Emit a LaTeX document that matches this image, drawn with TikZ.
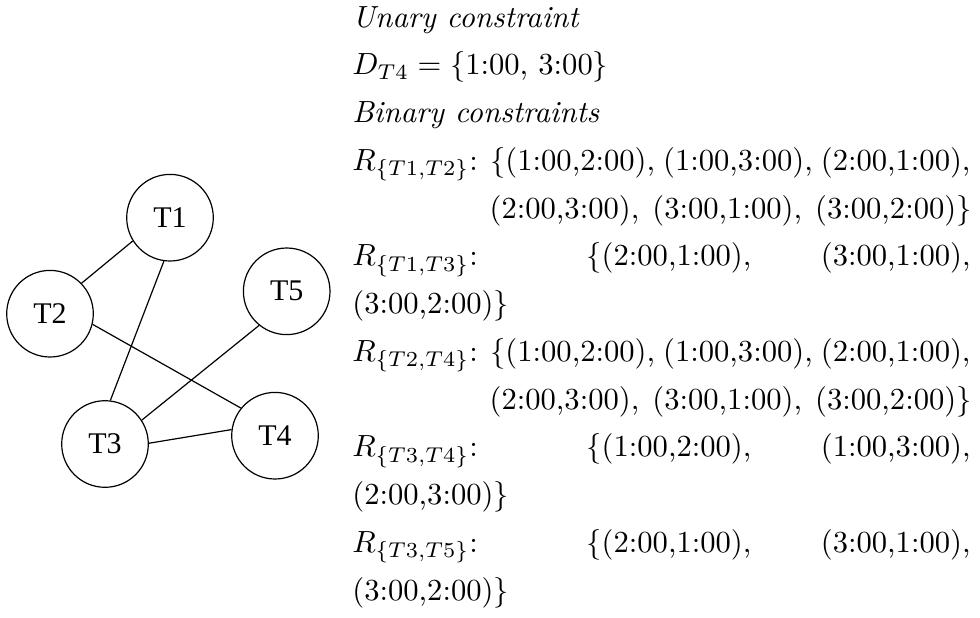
\documentclass[tikz,border=0pt]{standalone}
\usepackage{fontspec}
\newfontfamily\timesfont{Liberation Serif}
\newcommand{\bigtxt}[1]{\scalebox{1.53}{#1}}
\begin{document}
\begin{tikzpicture}[x=0.5pt,y=-0.5pt,
  tnode/.style={circle,draw,line width=0.6pt,minimum size=43.3pt,inner sep=0pt,font=\timesfont\fontsize{15}{17}\selectfont},
  edge/.style={line width=0.6pt},
  txt/.style={anchor=base west,inner sep=0pt,font=\fontsize{10}{12}\selectfont},
  txtr/.style={anchor=base east,inner sep=0pt,font=\fontsize{10}{12}\selectfont}]
\useasboundingbox (0,0) rectangle (980,617);
% graph
\node[tnode] (t1) at (170,217.7) {T1};
\node[tnode] (t2) at (50,313.7) {T2};
\node[tnode] (t5) at (286.7,291.3) {T5};
\node[tnode] (t3) at (105,444) {T3};
\node[tnode] (t4) at (275,435.7) {T4};
\draw[edge] (t1.212) -- (t2.44);
\draw[edge] (t1.262) -- (t3.83);
\draw[edge] (t2.346) -- (t4.141);
\draw[edge] (t3.33) -- (t5.231);
\draw[edge] (t3.1) -- (t4.172);
% text
\node[txt] (l1) at (352,27) {\bigtxt{\textit{Unary constraint}}};
\node[txt] (l2) at (352,74.75) {\bigtxt{$D_{T4}=\{$1:00, 3:00$\}$}};
\node[txt] (l3) at (352,122.5) {\bigtxt{\textit{Binary constraints}}};
\node[txt] (l4) at (352,170.25) {\bigtxt{\makebox[202pt][s]{$R_{\{T1,T2\}}$: $\{$(1:00,2:00), (1:00,3:00), (2:00,1:00),}}};
\node[txtr] (l5) at (972,218) {\bigtxt{\makebox[157.5pt][s]{(2:00,3:00), (3:00,1:00), (3:00,2:00)$\}$}}};
\node[txt] (l6) at (352,265.75) {\bigtxt{\makebox[202pt][s]{$R_{\{T1,T3\}}$: $\{$(2:00,1:00), (3:00,1:00),}}};
\node[txt] (l7) at (352,313.5) {\bigtxt{(3:00,2:00)$\}$}};
\node[txt] (l8) at (352,361.25) {\bigtxt{\makebox[202pt][s]{$R_{\{T2,T4\}}$: $\{$(1:00,2:00), (1:00,3:00), (2:00,1:00),}}};
\node[txtr] (l9) at (972,409) {\bigtxt{\makebox[157.5pt][s]{(2:00,3:00), (3:00,1:00), (3:00,2:00)$\}$}}};
\node[txt] (l10) at (352,456.75) {\bigtxt{\makebox[202pt][s]{$R_{\{T3,T4\}}$: $\{$(1:00,2:00), (1:00,3:00),}}};
\node[txt] (l11) at (352,504.5) {\bigtxt{(2:00,3:00)$\}$}};
\node[txt] (l12) at (352,552.25) {\bigtxt{\makebox[202pt][s]{$R_{\{T3,T5\}}$: $\{$(2:00,1:00), (3:00,1:00),}}};
\node[txt] (l13) at (352,600) {\bigtxt{(3:00,2:00)$\}$}};
\end{tikzpicture}
\end{document}
